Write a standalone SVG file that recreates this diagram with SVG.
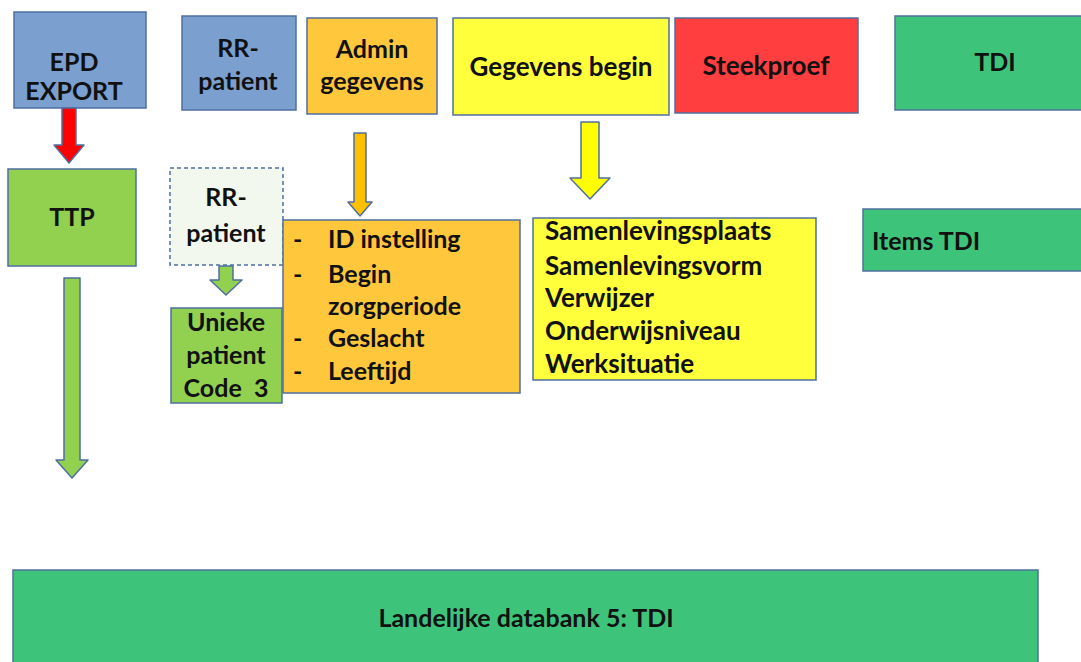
<svg xmlns="http://www.w3.org/2000/svg" width="1081" height="662" viewBox="0 0 1081 662">
<style>
.b{stroke:#4F6F9F;stroke-width:1.5}
.blue{fill:#7BA0D0}
.org{fill:#FFC83C}
.yel{fill:#FFFF3C}
.red{fill:#FF3F3F}
.grn{fill:#3EC47A}
.lg{fill:#92D050}
.dash{fill:#F3F8EE;stroke:#4F6F9F;stroke-width:1.5;stroke-dasharray:4 3}
text{font-family:Lato,"Liberation Sans",sans-serif;font-weight:700;font-size:25px;fill:#111}
.c{text-anchor:middle}
.l{font-size:26px}
.ar{stroke:#4F6F9F;stroke-width:1.5;stroke-linejoin:round}
</style>
<rect width="1081" height="662" fill="#fff"/>
<g id="epd"><rect class="b blue" x="14" y="12" width="132" height="96"/><text class="c" x="74" y="71">EPD</text><text class="c" x="74" y="100">EXPORT</text></g>
<g id="rr-top"><rect class="b blue" x="182" y="16" width="114" height="94"/><text class="c" x="238" y="57">RR-</text><text class="c" x="238" y="90">patient</text></g>
<g id="admin"><rect class="b org" x="307" y="18" width="130" height="96"/><text class="c" x="372" y="58">Admin</text><text class="c" x="372" y="90">gegevens</text></g>
<g id="gegevens"><rect class="b yel" x="453" y="18" width="216" height="97"/><text class="c l" x="561" y="76">Gegevens begin</text></g>
<g id="steekproef"><rect class="b red" x="675" y="18" width="183" height="95"/><text class="c l" x="766" y="75">Steekproef</text></g>
<g id="tdi"><rect class="b grn" x="895" y="16" width="195" height="94"/><text class="c" x="995" y="71">TDI</text></g>
<g id="ttp"><rect class="b lg" x="8" y="169" width="128" height="97"/><text class="c" x="72" y="226">TTP</text></g>
<g id="rr-dashed"><rect class="dash" x="170" y="168" width="113" height="97"/><text class="c" x="226" y="206">RR-</text><text class="c" x="226" y="242">patient</text></g>
<g id="unieke"><rect class="b lg" x="171" y="308" width="111" height="95"/><text class="c" x="226" y="331">Unieke</text><text class="c" x="226" y="364">patient</text><text class="c" x="226" y="397" style="white-space:pre">Code  3</text></g>
<g id="admin-list"><rect class="b org" x="283" y="220" width="237" height="173"/>
<text x="293" y="248">-</text><text x="328" y="248">ID instelling</text>
<text x="293" y="283">-</text><text x="328" y="283">Begin</text>
<text x="328" y="315">zorgperiode</text>
<text x="293" y="347">-</text><text x="328" y="347">Geslacht</text>
<text x="293" y="380">-</text><text x="328" y="380">Leeftijd</text></g>
<g id="begin-list"><rect class="b yel" x="533" y="218" width="283" height="162"/>
<text class="l" x="545" y="240">Samenlevingsplaats</text>
<text class="l" x="545" y="275">Samenlevingsvorm</text>
<text class="l" x="545" y="307">Verwijzer</text>
<text class="l" x="545" y="340">Onderwijsniveau</text>
<text class="l" x="545" y="373">Werksituatie</text></g>
<g id="items-tdi"><rect class="b grn" x="863" y="209" width="225" height="62"/><text x="872" y="250">Items TDI</text></g>
<g id="landelijke"><rect class="b grn" x="13" y="570" width="1025" height="100"/><text class="c" x="526" y="627">Landelijke databank 5: TDI</text></g>
<g id="connectors">
<polygon class="ar" fill="#FF0000" points="62,108 76,108 76,145 84,145 69,163 54,145 62,145"/>
<polygon class="ar" fill="#92D050" points="64,278 80,278 80,460 88,460 72,478 56,460 64,460"/>
<polygon class="ar" fill="#FFC000" points="354,133 366,133 366,202 372,202 360,216 348,202 354,202"/>
<polygon class="ar" fill="#FFFF00" points="581,122 599,122 599,178 610,178 590,199 570,178 581,178"/>
<polygon class="ar" fill="#92D050" stroke="#7FA8D0" points="219,266 233,266 233,280 242,280 226,295 210,280 219,280"/>
</g>
</svg>
